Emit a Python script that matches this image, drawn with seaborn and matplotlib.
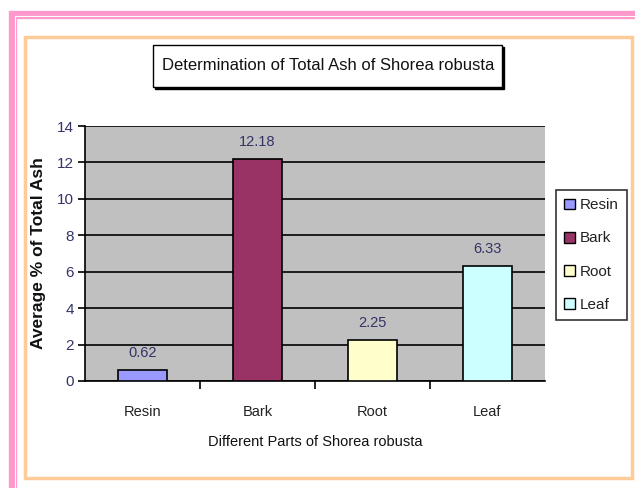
import matplotlib
matplotlib.use("Agg")
import matplotlib.pyplot as plt
import seaborn as sns
import pandas as pd
from matplotlib.patches import Rectangle, Patch

# data
parts = ["Resin", "Bark", "Root", "Leaf"]
ash = [0.62, 12.18, 2.25, 6.33]
colors = ["#9999FF", "#993366", "#FFFFCC", "#CCFFFF"]
y_ticks = [0, 2, 4, 6, 8, 10, 12, 14]

df = pd.DataFrame({"part": parts, "ash": ash})

sns.set_theme(style="white")
plt.rcParams["font.family"] = ["Liberation Sans Narrow", "Liberation Sans", "DejaVu Sans"]

fig = plt.figure(figsize=(6.35, 4.88), dpi=100)
W, H = 635, 488

def px(x0, y0, x1, y1):
    return (x0 / W, 1 - y1 / H, (x1 - x0) / W, (y1 - y0) / H)

def frame(x0, y0, x1, y1, color, lw, fill=False, face="none", z=0):
    l, b, w, h = px(x0, y0, x1, y1)
    fig.patches.append(Rectangle((l, b), w, h, transform=fig.transFigure, fill=fill,
                                 facecolor=face, edgecolor=color, linewidth=lw, zorder=z))

# outer pink frame (double line) and orange inner frame
frame(13, 15, 645, 500, "#FF99CC", 6)
frame(14.5, 16.5, 645, 500, "white", 0.8)
frame(25, 37, 632, 478, "#FFCC99", 2.5)

# title box with a little drop shadow
frame(155, 47, 504, 89, "black", 1.0, fill=True, face="black", z=1)
frame(153, 45, 502, 87, "black", 1.0, fill=True, face="white", z=2)
fig.text(328 / W, 1 - 66 / H, "Determination of Total Ash of Shorea robusta", ha="center", va="center",
         fontsize=12, color="#111111", zorder=3)

ax = fig.add_axes(px(85, 126, 545, 381))
ax.set_facecolor("#C0C0C0")

sns.barplot(data=df, x="part", y="ash", hue="part", palette=colors, saturation=1, width=0.42,
            edgecolor="black", linewidth=1.2, legend=False, ax=ax, zorder=3)

ax.set_ylim(0, 14)
ax.set_yticks(y_ticks)
ax.set_xlim(-0.5, 3.5)
ax.yaxis.grid(True, color="black", linewidth=1.2)
ax.set_axisbelow(True)
for s in ["top", "right"]:
    ax.spines[s].set_visible(False)
for s in ["left", "bottom"]:
    ax.spines[s].set_color("black")
    ax.spines[s].set_linewidth(1.2)

# y ticks
ax.tick_params(axis="y", left=True, length=5, width=1.2, color="black",
               labelsize=11, labelcolor="#333366", pad=3)
# x: ticks at category boundaries, labels at centres
ax.set_xticks([0, 1, 2, 3])
ax.set_xticklabels(parts)
ax.set_xticks([0.5, 1.5, 2.5], minor=True)
ax.tick_params(axis="x", which="major", length=0, labelsize=10.5, labelcolor="#222222", pad=17)
ax.tick_params(axis="x", which="minor", bottom=True, length=6, width=1.2, color="black")

for i, v in enumerate(ash):
    ax.text(i, v + 0.55, f"{v:.2f}", ha="center", va="bottom", fontsize=10.5, color="#333366")

ax.set_xlabel("Different Parts of Shorea robusta", fontsize=10.5, labelpad=12, color="#111111")
ax.set_ylabel("Average % of Total Ash", fontsize=12.5, fontweight="bold",
              family=["Liberation Sans", "DejaVu Sans"], labelpad=8, color="#111111")

handles = [Patch(facecolor=c, edgecolor="black", label=p) for p, c in zip(parts, colors)]
leg = fig.legend(handles=handles, loc="upper left", bbox_to_anchor=(556 / W, 1 - 190 / H),
                 frameon=True, fontsize=11, handlelength=0.7, handleheight=0.7, handletextpad=0.3,
                 labelspacing=1.25, borderpad=0.55, fancybox=False, borderaxespad=0)
leg.get_frame().set_edgecolor("black")
leg.get_frame().set_linewidth(1.2)
for t in leg.get_texts():
    t.set_color("#222222")

fig.savefig("out.png", dpi=100)
